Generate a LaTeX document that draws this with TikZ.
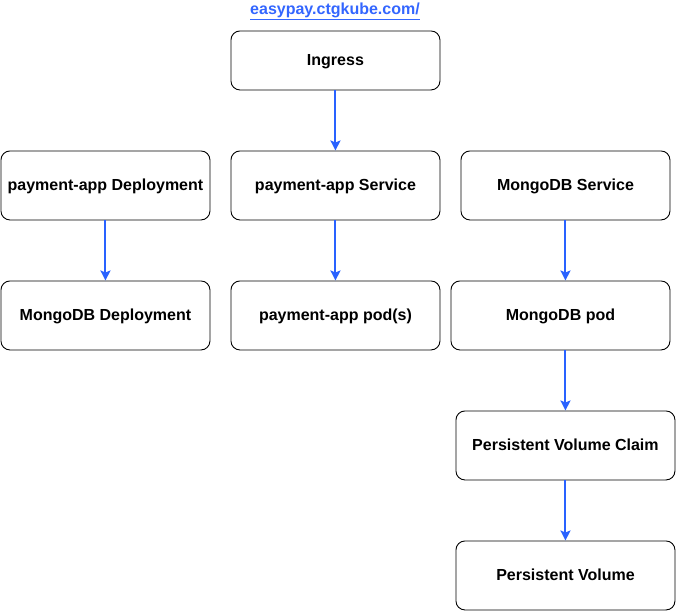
\documentclass[tikz,border=0pt]{standalone}
\usepackage{fontspec}
\setmainfont{Liberation Sans}
\usetikzlibrary{arrows.meta}
\definecolor{linkblue}{HTML}{3366FF}
\definecolor{arrowblue}{HTML}{2962FF}
\begin{document}
\begin{tikzpicture}[x=1pt,y=-1pt,
  box/.style={draw=black,line width=0.9pt,rounded corners=9pt,fill=white,
    minimum width=209pt,minimum height=69pt,inner sep=0pt,text height=12pt,text depth=1pt,
    font=\fontsize{16}{18}\selectfont\bfseries,anchor=north west},
  conn/.style={draw=arrowblue,line width=2pt,-{Stealth[length=10pt,width=10pt,inset=2pt]}}]
\useasboundingbox (0,0) rectangle (676,611);
\node[font=\fontsize{16}{18}\selectfont\bfseries,text=linkblue] (url) at (335,11) {\underline{easypay.ctgkube.com/}};
\node[box,minimum height=59pt] (ing) at (230.5,30.5) {Ingress};
\node[box] (pdep) at (0.5,150.5) {payment-app Deployment};
\node[box] (psvc) at (230.5,150.5) {payment-app Service};
\node[box] (msvc) at (460.5,150.5) {MongoDB Service};
\node[box] (mdep) at (0.5,280.5) {MongoDB Deployment};
\node[box] (ppod) at (230.5,280.5) {payment-app pod(s)};
\node[box,minimum width=219pt] (mpod) at (450.5,280.5) {MongoDB pod};
\node[box,minimum width=219pt] (pvc) at (455.5,410.5) {Persistent Volume Claim};
\node[box,minimum width=219pt] (pv) at (455.5,540.5) {Persistent Volume};
\draw[conn] (ing.south) -- (psvc.north);
\draw[conn] (pdep.south) -- (mdep.north);
\draw[conn] (psvc.south) -- (ppod.north);
\draw[conn] (msvc.south) -- (msvc.south |- mpod.north);
\draw[conn] (pvc.north |- mpod.south) -- (pvc.north);
\draw[conn] (pvc.south) -- (pv.north);
\end{tikzpicture}
\end{document}
